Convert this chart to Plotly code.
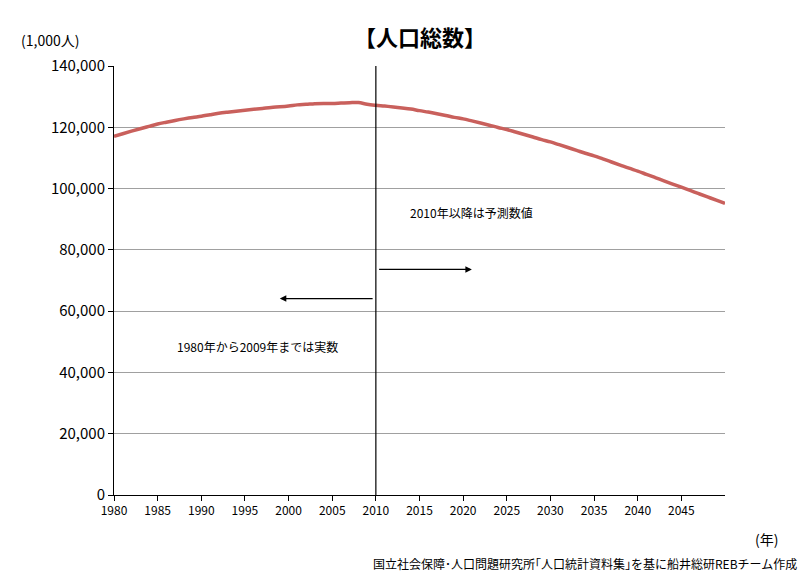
import plotly.graph_objects as go

years = list(range(1980, 2051))
population = [117060,117902,118728,119536,120305,121049,121660,122239,122745,123205,
 123611,124101,124567,124938,125265,125570,125859,126157,126472,126667,
 126926,127316,127486,127694,127787,127768,127901,128033,128084,127510,
 127176,126932,126646,126322,125960,125430,124961,124433,123856,123236,
 122735,122084,121400,120686,119946,119270,118479,117663,116823,115962,
 115224,114318,113397,112462,111514,110679,109682,108676,107661,106640,
 105695,104649,103595,102541,101486,100443,99383,98325,97272,96225,95152]
xticks = list(range(1980, 2050, 5))
yticks = list(range(0, 140001, 20000))

F = "Noto Sans CJK JP"
fig = go.Figure()
fig.add_trace(go.Scatter(x=years, y=population, mode="lines", line_shape="spline",
                         line=dict(color="#C9605C", width=3.5), showlegend=False))
fig.add_shape(type="line", x0=2010, x1=2010, y0=0, y1=141500, line=dict(color="black", width=1.2))
fig.add_annotation(x=2021, y=73600, ax=2010.2, ay=73600, axref="x", ayref="y", arrowcolor="black",
                   showarrow=True, arrowhead=2, arrowsize=1, arrowwidth=1.3, text="")
fig.add_annotation(x=1999, y=64100, ax=2009.8, ay=64100, axref="x", ayref="y", arrowcolor="black",
                   showarrow=True, arrowhead=2, arrowsize=1, arrowwidth=1.3, text="")
fig.add_annotation(x=2021, y=92200, text="2010年以降は予測数値", showarrow=False,
                   font=dict(size=12, color="black", family=F))
fig.add_annotation(x=1996.4, y=48400, text="1980年から2009年までは実数", showarrow=False,
                   font=dict(size=12, color="black", family=F))
fig.add_annotation(x=0.5, y=1, xref="paper", yref="paper", yshift=48, text="<b>【人口総数】</b>",
                   showarrow=False, font=dict(size=22, color="black", family=F))
fig.add_annotation(x=-0.155, y=1, xref="paper", yref="paper", yshift=38, xanchor="left",
                   text="(1,000人)", showarrow=False, font=dict(size=14, color="black", family=F))
fig.add_annotation(x=1.046, y=0, xref="paper", yref="paper", yshift=-56, xanchor="left",
                   text="(年)", showarrow=False, font=dict(size=14, color="black", family=F))
fig.add_annotation(x=1.121, y=0, xref="paper", yref="paper", yshift=-79, xanchor="right",
                   text="国立社会保障･人口問題研究所｢人口統計資料集｣を基に船井総研REBチーム作成",
                   showarrow=False, font=dict(size=12, color="black", family=F))
fig.update_layout(width=809, height=586, margin=dict(l=106, r=92, t=58, b=99),
                  plot_bgcolor="white", paper_bgcolor="white",
                  font=dict(family=F, color="black"))
fig.update_xaxes(range=[1980, 2050], tickvals=xticks, showgrid=False, showline=True,
                 linecolor="black", ticks="outside", ticklen=5, tickcolor="black",
                 tickfont=dict(size=12), zeroline=False)
fig.update_yaxes(range=[0, 140000], tickvals=yticks, tickformat=",", showgrid=True,
                 gridcolor="#A0A0A0", showline=True, linecolor="black", ticks="outside",
                 ticklen=5, tickcolor="black", tickfont=dict(size=15), zeroline=False)
fig.write_html("out.html")
